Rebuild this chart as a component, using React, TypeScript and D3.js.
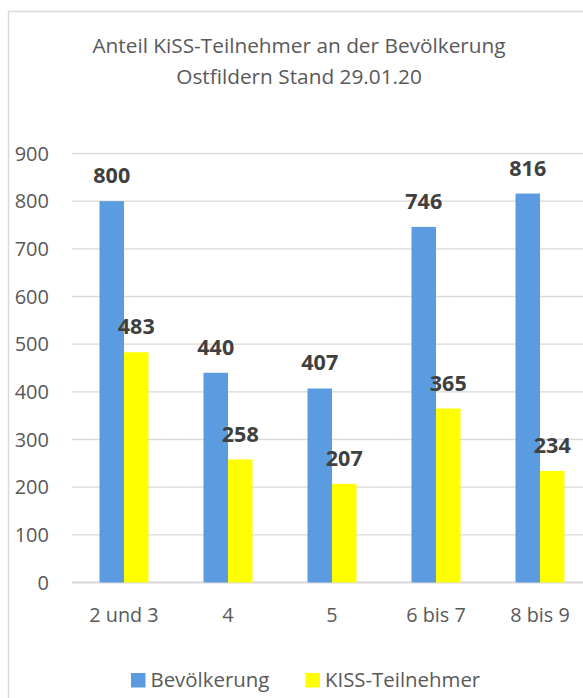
import React, { useEffect, useRef } from "react";
import * as d3 from "d3";

const categories = ["2 und 3", "4", "5", "6 bis 7", "8 bis 9"];
const bevoelkerung = [800, 440, 407, 746, 816];
const kissTeilnehmer = [483, 258, 207, 365, 234];
const seriesNames = ["Bevölkerung", "KISS-Teilnehmer"];
const yTicks = [0, 100, 200, 300, 400, 500, 600, 700, 800, 900];
const titleLines = ["Anteil KiSS-Teilnehmer an der Bevölkerung", "Ostfildern Stand 29.01.20"];

const colors = ["#5B9BDF", "#FFFF00"];
const font = "'Open Sans', 'Noto Sans', sans-serif";

function App() {
  const ref = useRef<SVGSVGElement | null>(null);

  useEffect(() => {
    const svg = d3.select(ref.current);
    svg.selectAll("*").remove();

    // chart frame (cut off on the right and bottom like the picture)
    svg.append("rect")
      .attr("x", 8.5).attr("y", 11.5)
      .attr("width", 620).attr("height", 720)
      .attr("fill", "#fff")
      .attr("stroke", "#d9d9d9")
      .attr("stroke-width", 1.5);

    // title
    svg.selectAll(".title")
      .data(titleLines)
      .enter()
      .append("text")
      .attr("class", "title")
      .attr("x", 299)
      .attr("y", (d, i) => 53 + i * 31)
      .attr("text-anchor", "middle")
      .attr("font-family", font)
      .attr("font-size", 20.8)
      .attr("fill", "#595959")
      .text((d) => d);

    const left = 72, right = 592, top = 153.5, bottom = 582.5;

    const y = d3.scaleLinear().domain([0, 900]).range([bottom, top]);
    const x0 = d3.scaleBand<string>()
      .domain(categories)
      .range([left, right])
      .paddingInner(0.529)
      .paddingOuter(0.2645);
    const x1 = d3.scaleBand<number>()
      .domain([0, 1])
      .range([0, x0.bandwidth()]);

    // gridlines
    svg.selectAll(".grid")
      .data(yTicks)
      .enter()
      .append("line")
      .attr("class", "grid")
      .attr("x1", left).attr("x2", 600)
      .attr("y1", (d) => y(d)).attr("y2", (d) => y(d))
      .attr("stroke", "#d9d9d9")
      .attr("stroke-width", (d) => (d === 0 ? 2 : 1.4));

    // y labels
    svg.selectAll(".ylab")
      .data(yTicks)
      .enter()
      .append("text")
      .attr("class", "ylab")
      .attr("x", 49)
      .attr("y", (d) => y(d) + 7)
      .attr("text-anchor", "end")
      .attr("font-family", font)
      .attr("font-size", 20)
      .attr("fill", "#595959")
      .text((d) => d);

    const series = [bevoelkerung, kissTeilnehmer];

    series.forEach((values, s) => {
      svg.selectAll(".bar" + s)
        .data(values)
        .enter()
        .append("rect")
        .attr("class", "bar" + s)
        .attr("x", (d, i) => (x0(categories[i]) as number) + (x1(s) as number))
        .attr("y", (d) => y(d))
        .attr("width", x1.bandwidth())
        .attr("height", (d) => y(0) - y(d))
        .attr("fill", colors[s]);

      svg.selectAll(".val" + s)
        .data(values)
        .enter()
        .append("text")
        .attr("class", "val" + s)
        .attr("x", (d, i) => (x0(categories[i]) as number) + (x1(s) as number) + x1.bandwidth() / 2)
        .attr("y", (d) => y(d) - 18)
        .attr("text-anchor", "middle")
        .attr("font-family", font)
        .attr("font-weight", "bold")
        .attr("font-size", 21.5)
        .attr("fill", "#404040")
        .text((d) => d);
    });

    // category labels
    svg.selectAll(".xlab")
      .data(categories)
      .enter()
      .append("text")
      .attr("class", "xlab")
      .attr("x", (d) => (x0(d) as number) + x0.bandwidth() / 2)
      .attr("y", 621.5)
      .attr("text-anchor", "middle")
      .attr("font-family", font)
      .attr("font-size", 19.8)
      .attr("fill", "#595959")
      .text((d) => d);

    // legend
    const legendX = [131, 305.5];
    const legend = svg.selectAll(".legend")
      .data(seriesNames)
      .enter()
      .append("g")
      .attr("class", "legend")
      .attr("transform", (d, i) => "translate(" + legendX[i] + ",673)");

    legend.append("rect")
      .attr("width", 14.5)
      .attr("height", 14.5)
      .attr("fill", (d, i) => colors[i]);

    legend.append("text")
      .attr("x", 19.5)
      .attr("y", 13.7)
      .attr("font-family", font)
      .attr("font-size", 20.4)
      .attr("fill", "#595959")
      .text((d) => d);
  }, []);

  return (
    <svg
      ref={ref}
      width={583}
      height={698}
      style={{ position: "absolute", left: 0, top: 0, background: "#fff" }}
    />
  );
}

export default App;
